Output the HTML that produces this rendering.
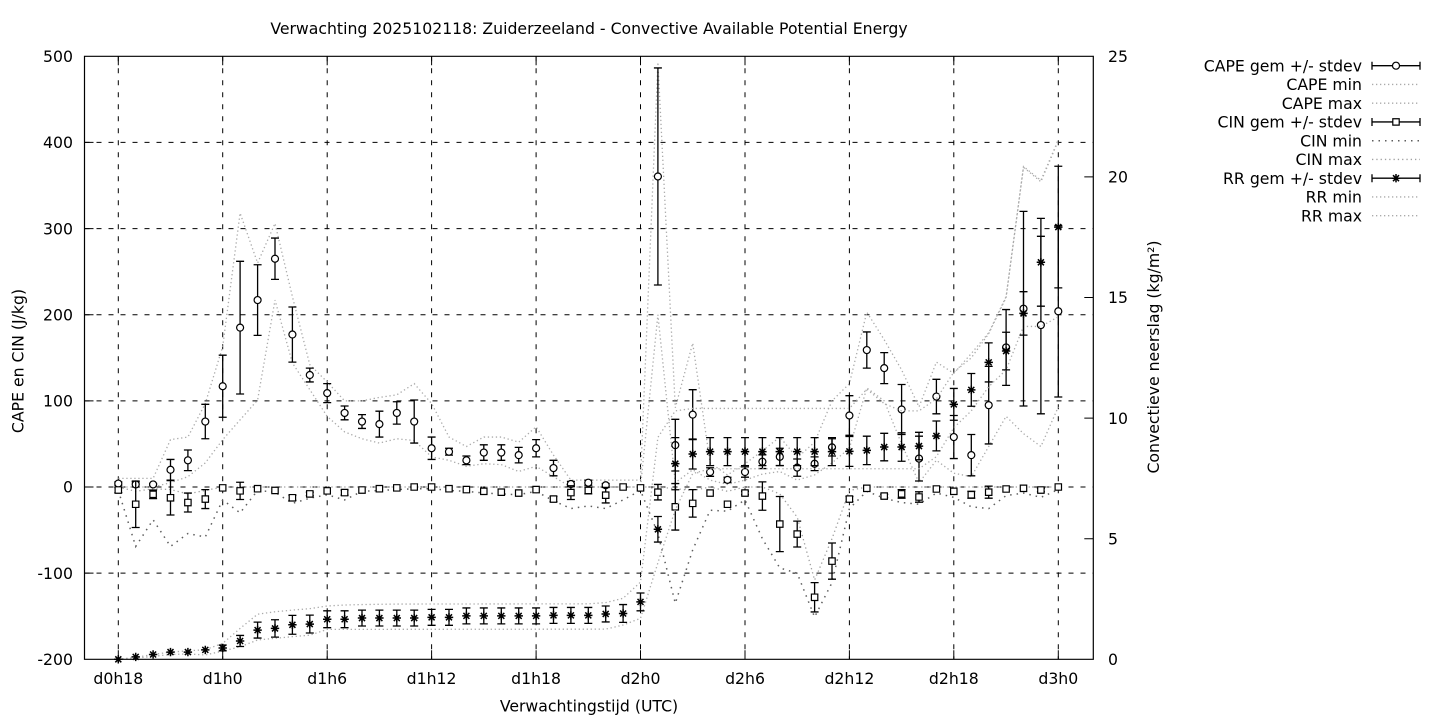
<!DOCTYPE html>
<html>
<head>
<meta charset="utf-8">
<style>
html,body{margin:0;padding:0;background:#fff;}
svg{display:block;}
text{font-family:"DejaVu Sans","Liberation Sans",sans-serif;font-size:15.7px;fill:#000;}
path,polyline,ellipse,rect,line{vector-effect:non-scaling-stroke;}
</style>
</head>
<body>
<svg width="1440" height="720" viewBox="0 0 1440 720" xmlns="http://www.w3.org/2000/svg">
<rect x="0" y="0" width="1440" height="720" fill="#fff"/>
<defs>
  <ellipse id="c" rx="3.5" ry="4.063" fill="#fff" stroke="#000" stroke-width="1.2" vector-effect="non-scaling-stroke"/>
  <rect id="q" x="-3.2" y="-3.715" width="6.4" height="7.43" fill="#fff" stroke="#000" stroke-width="1.2" vector-effect="non-scaling-stroke"/>
  <path id="st" d="M-4.2 0H4.2M0 -0.1741V0.1741M-3 -0.1244L3 0.1244M-3 0.1244L3 -0.1244" fill="none" stroke="#000" stroke-width="1.5" vector-effect="non-scaling-stroke"/>
</defs>

<!-- grid -->
<g stroke="#000" stroke-width="1" stroke-dasharray="5,7" fill="none">
  <path d="M84.5 142.4H1093.3M84.5 228.6H1093.3M84.5 314.7H1093.3M84.5 400.9H1093.3M84.5 487H1093.3M84.5 573.1H1093.3"/>
  <path d="M118.3 56.3V659.3M222.7 56.3V659.3M327.2 56.3V659.3M431.6 56.3V659.3M536.1 56.3V659.3M640.5 56.3V659.3M745 56.3V659.3M849.4 56.3V659.3M953.8 56.3V659.3M1058.3 56.3V659.3"/>
</g>

<!-- ticks -->
<g stroke="#000" stroke-width="1" fill="none">
  <path d="M84.5 142.4h9M84.5 228.6h9M84.5 314.7h9M84.5 400.9h9M84.5 487h9M84.5 573.1h9"/>
  <path d="M1093.3 176.9h-9M1093.3 297.5h-9M1093.3 418.1h-9M1093.3 538.7h-9"/>
  <path d="M118.3 659.3v-9M222.7 659.3v-9M327.2 659.3v-9M431.6 659.3v-9M536.1 659.3v-9M640.5 659.3v-9M745 659.3v-9M849.4 659.3v-9M953.8 659.3v-9M1058.3 659.3v-9"/>
  <path d="M118.3 56.3v9M222.7 56.3v9M327.2 56.3v9M431.6 56.3v9M536.1 56.3v9M640.5 56.3v9M745 56.3v9M849.4 56.3v9M953.8 56.3v9M1058.3 56.3v9"/>
</g>

<!-- LEFT AXIS DATA (CAPE / CIN) -->
<g transform="matrix(1 0 0 -0.861428 0 487.01)" fill="none">
  <polyline stroke="#aaaaaa" stroke-width="1.3" stroke-dasharray="1.3,2.7" points="118.3,10 135.7,10 153.1,10 170.5,55 187.9,58 205.3,97 222.7,163 240.1,318 257.6,260 275,306 292.4,221 309.8,142 327.2,122 344.6,100 362,100 379.4,104 396.8,107 414.2,120 431.6,97 449,58 466.4,47 483.8,58 501.3,58 518.7,52 536.1,70 553.5,37 570.9,8 588.3,8 605.7,8 623.1,8 640.5,8 657.9,493 675.3,92 692.7,167 710.1,28 727.5,14 745,27 762.4,42 779.8,58 797.2,34 814.6,52 832,100 849.4,120 866.8,203 884.2,171 901.6,136 919,93 936.4,145 953.8,132 971.3,155 988.7,179 1006.1,221 1023.5,372 1040.9,356 1058.3,403"/>
  <polyline stroke="#aaaaaa" stroke-width="1.3" stroke-dasharray="1.3,2.7" points="118.3,0 135.7,0 153.1,0 170.5,5 187.9,12 205.3,28 222.7,55 240.1,78 257.6,101 275,217 292.4,144 309.8,113 327.2,82 344.6,64 362,56 379.4,51 396.8,56 414.2,54 431.6,35 449,31 466.4,24 483.8,27 501.3,26 518.7,18 536.1,24 553.5,12 570.9,0 588.3,0 605.7,0 623.1,0 640.5,0 657.9,200 675.3,5 692.7,20 710.1,8 727.5,3 745,8 762.4,15 779.8,18 797.2,8 814.6,14 832,28 849.4,45 866.8,115 884.2,100 901.6,50 919,5 936.4,31 953.8,16 971.3,12 988.7,47 1006.1,82 1023.5,62 1040.9,47 1058.3,93"/>
  <polyline stroke="#5e5e5e" stroke-width="1.5" stroke-dasharray="1.5,5" points="118.3,-4 135.7,-69 153.1,-38 170.5,-69 187.9,-54 205.3,-58 222.7,-15 240.1,-30 257.6,-4 275,-6 292.4,-19 309.8,-13 327.2,-9 344.6,-15 362,-5 379.4,-4 396.8,-3 414.2,-2 431.6,-2 449,-4 466.4,-5 483.8,-7 501.3,-8 518.7,-9 536.1,-5 553.5,-16 570.9,-25 588.3,-22 605.7,-25 623.1,-15 640.5,-4 657.9,-54 675.3,-135 692.7,-73 710.1,-27 727.5,-28 745,-15 762.4,-60 779.8,-94 797.2,-100 814.6,-151 832,-111 849.4,-25 866.8,-5 884.2,-13 901.6,-18 919,-20 936.4,-7 953.8,-12 971.3,-23 988.7,-25 1006.1,-10 1023.5,-7 1040.9,-12 1058.3,-3"/>
  <polyline stroke="#a0a0a0" stroke-width="1.3" stroke-dasharray="1.3,3" points="118.3,0 135.7,-5 153.1,-2 170.5,-3 187.9,-8 205.3,-4 222.7,0 640.5,0 657.9,0 675.3,-2 692.7,-4 710.1,0 727.5,-5 745,0 762.4,0 779.8,-8 797.2,-35 814.6,-108 832,-60 849.4,-4 866.8,0 1058.3,0"/>

  <path stroke="#000" stroke-width="1.3" d="M118.3 2V6M114.3 2h8M114.3 6h8M135.7 0V6M131.7 0h8M131.7 6h8M153.1 2V4M149.1 2h8M149.1 4h8M170.5 8V32M166.5 8h8M166.5 32h8M187.9 19V43M183.9 19h8M183.9 43h8M205.3 56V96M201.3 56h8M201.3 96h8M222.7 81V153M218.7 81h8M218.7 153h8M240.1 108V262M236.1 108h8M236.1 262h8M257.6 176V258M253.6 176h8M253.6 258h8M275 241V289M271 241h8M271 289h8M292.4 145V209M288.4 145h8M288.4 209h8M309.8 122V138M305.8 122h8M305.8 138h8M327.2 98V120M323.2 98h8M323.2 120h8M344.6 78V94M340.6 78h8M340.6 94h8M362 68V84M358 68h8M358 84h8M379.4 58V88M375.4 58h8M375.4 88h8M396.8 73V99M392.8 73h8M392.8 99h8M414.2 51V101M410.2 51h8M410.2 101h8M431.6 32V58M427.6 32h8M427.6 58h8M449 37V45M445 37h8M445 45h8M466.4 26V36M462.4 26h8M462.4 36h8M483.8 31V49M479.8 31h8M479.8 49h8M501.3 31V49M497.3 31h8M497.3 49h8M518.7 28V46M514.7 28h8M514.7 46h8M536.1 35V55M532.1 35h8M532.1 55h8M553.5 13V31M549.5 13h8M549.5 31h8M570.9 0.5V6.5M566.9 0.5h8M566.9 6.5h8M588.3 2V8M584.3 2h8M584.3 8h8M605.7 0V4M601.7 0h8M601.7 4h8M657.9 234.5V486.5M653.9 234.5h8M653.9 486.5h8M675.3 18.6V78.6M671.3 18.6h8M671.3 78.6h8M692.7 55V113M688.7 55h8M688.7 113h8M710.1 12.4V22.4M706.1 12.4h8M706.1 22.4h8M727.5 5.3V11.3M723.5 5.3h8M723.5 11.3h8M745 11.4V23.4M741 11.4h8M741 23.4h8M762.4 21.4V37.4M758.4 21.4h8M758.4 37.4h8M779.8 25V45M775.8 25h8M775.8 45h8M797.2 12.5V32.5M793.2 12.5h8M793.2 32.5h8M814.6 19V35M810.6 19h8M810.6 35h8M832 36V56M828 36h8M828 56h8M849.4 60V106M845.4 60h8M845.4 106h8M866.8 138V180M862.8 138h8M862.8 180h8M884.2 120V156M880.2 120h8M880.2 156h8M901.6 61V119M897.6 61h8M897.6 119h8M919 7V59M915 7h8M915 59h8M936.4 85V125M932.4 85h8M932.4 125h8M953.8 33V83M949.8 33h8M949.8 83h8M971.3 13V61M967.3 13h8M967.3 61h8M988.7 50V140M984.7 50h8M984.7 140h8M1006.1 118V206M1002.1 118h8M1002.1 206h8M1023.5 94V320M1019.5 94h8M1019.5 320h8M1040.9 85V291M1036.9 85h8M1036.9 291h8M1058.3 104.5V303.5M1054.3 104.5h8M1054.3 303.5h8"/>

  <use href="#c" x="118.3" y="4"/><use href="#c" x="135.7" y="3"/><use href="#c" x="153.1" y="3"/><use href="#c" x="170.5" y="20"/><use href="#c" x="187.9" y="31"/><use href="#c" x="205.3" y="76"/><use href="#c" x="222.7" y="117"/><use href="#c" x="240.1" y="185"/><use href="#c" x="257.6" y="217"/><use href="#c" x="275" y="265"/><use href="#c" x="292.4" y="177"/><use href="#c" x="309.8" y="130"/><use href="#c" x="327.2" y="109"/><use href="#c" x="344.6" y="86"/><use href="#c" x="362" y="76"/><use href="#c" x="379.4" y="73"/><use href="#c" x="396.8" y="86"/><use href="#c" x="414.2" y="76"/><use href="#c" x="431.6" y="45"/><use href="#c" x="449" y="41"/><use href="#c" x="466.4" y="31"/><use href="#c" x="483.8" y="40"/><use href="#c" x="501.3" y="40"/><use href="#c" x="518.7" y="37"/><use href="#c" x="536.1" y="45"/><use href="#c" x="553.5" y="22"/><use href="#c" x="570.9" y="3.5"/><use href="#c" x="588.3" y="5"/><use href="#c" x="605.7" y="2"/><use href="#c" x="657.9" y="360.5"/><use href="#c" x="675.3" y="48.6"/><use href="#c" x="692.7" y="84"/><use href="#c" x="710.1" y="17.4"/><use href="#c" x="727.5" y="8.3"/><use href="#c" x="745" y="17.4"/><use href="#c" x="762.4" y="29.4"/><use href="#c" x="779.8" y="35"/><use href="#c" x="797.2" y="22.5"/><use href="#c" x="814.6" y="27"/><use href="#c" x="832" y="46"/><use href="#c" x="849.4" y="83"/><use href="#c" x="866.8" y="159"/><use href="#c" x="884.2" y="138"/><use href="#c" x="901.6" y="90"/><use href="#c" x="919" y="33"/><use href="#c" x="936.4" y="105"/><use href="#c" x="953.8" y="58"/><use href="#c" x="971.3" y="37"/><use href="#c" x="988.7" y="95"/><use href="#c" x="1006.1" y="162"/><use href="#c" x="1023.5" y="207"/><use href="#c" x="1040.9" y="188"/><use href="#c" x="1058.3" y="204"/>

  <path stroke="#000" stroke-width="1.3" d="M118.3 -6.5V-0.5M114.3 -6.5h8M114.3 -0.5h8M135.7 -47V7M131.7 -47h8M131.7 7h8M153.1 -13.5V-3.5M149.1 -13.5h8M149.1 -3.5h8M170.5 -32.5V7.5M166.5 -32.5h8M166.5 7.5h8M187.9 -29V-7M183.9 -29h8M183.9 -7h8M205.3 -25V-3M201.3 -25h8M201.3 -3h8M240.1 -14.5V5.5M236.1 -14.5h8M236.1 5.5h8M292.4 -15.5V-9.5M288.4 -15.5h8M288.4 -9.5h8M309.8 -10V-6M305.8 -10h8M305.8 -6h8M344.6 -9.5V-3.5M340.6 -9.5h8M340.6 -3.5h8M553.5 -17V-11M549.5 -17h8M549.5 -11h8M570.9 -14.5V1.5M566.9 -14.5h8M566.9 1.5h8M588.3 -8V0M584.3 -8h8M584.3 0h8M605.7 -18.5V-0.5M601.7 -18.5h8M601.7 -0.5h8M657.9 -15V3M653.9 -15h8M653.9 3h8M675.3 -50V4M671.3 -50h8M671.3 4h8M692.7 -35V-3M688.7 -35h8M688.7 -3h8M745 -9V-5M741 -9h8M741 -5h8M762.4 -27V6M758.4 -27h8M758.4 6h8M779.8 -75V-11M775.8 -75h8M775.8 -11h8M797.2 -69.6V-39.6M793.2 -69.6h8M793.2 -39.6h8M814.6 -145V-111M810.6 -145h8M810.6 -111h8M832 -107V-65M828 -107h8M828 -65h8M849.4 -17V-11M845.4 -17h8M845.4 -11h8M884.2 -12.5V-8.5M880.2 -12.5h8M880.2 -8.5h8M901.6 -13V-3M897.6 -13h8M897.6 -3h8M919 -17.6V-5.6M915 -17.6h8M915 -5.6h8M971.3 -13V-5M967.3 -13h8M967.3 -5h8M988.7 -13V1M984.7 -13h8M984.7 1h8M1040.9 -5.5V-1.5M1036.9 -5.5h8M1036.9 -1.5h8"/>

  <use href="#q" x="118.3" y="-3.5"/><use href="#q" x="135.7" y="-20"/><use href="#q" x="153.1" y="-8.5"/><use href="#q" x="170.5" y="-12.5"/><use href="#q" x="187.9" y="-18"/><use href="#q" x="205.3" y="-14"/><use href="#q" x="222.7" y="-1"/><use href="#q" x="240.1" y="-4.5"/><use href="#q" x="257.6" y="-2"/><use href="#q" x="275" y="-4"/><use href="#q" x="292.4" y="-12.5"/><use href="#q" x="309.8" y="-8"/><use href="#q" x="327.2" y="-4.5"/><use href="#q" x="344.6" y="-6.5"/><use href="#q" x="362" y="-3.5"/><use href="#q" x="379.4" y="-2"/><use href="#q" x="396.8" y="-1"/><use href="#q" x="414.2" y="0"/><use href="#q" x="431.6" y="0"/><use href="#q" x="449" y="-2"/><use href="#q" x="466.4" y="-3"/><use href="#q" x="483.8" y="-5"/><use href="#q" x="501.3" y="-6"/><use href="#q" x="518.7" y="-7"/><use href="#q" x="536.1" y="-3"/><use href="#q" x="553.5" y="-14"/><use href="#q" x="570.9" y="-6.5"/><use href="#q" x="588.3" y="-4"/><use href="#q" x="605.7" y="-9.5"/><use href="#q" x="623.1" y="0"/><use href="#q" x="640.5" y="-1"/><use href="#q" x="657.9" y="-6"/><use href="#q" x="675.3" y="-23"/><use href="#q" x="692.7" y="-19"/><use href="#q" x="710.1" y="-7"/><use href="#q" x="727.5" y="-20"/><use href="#q" x="745" y="-7"/><use href="#q" x="762.4" y="-10.5"/><use href="#q" x="779.8" y="-43"/><use href="#q" x="797.2" y="-54.6"/><use href="#q" x="814.6" y="-128"/><use href="#q" x="832" y="-86"/><use href="#q" x="849.4" y="-14"/><use href="#q" x="866.8" y="-1.5"/><use href="#q" x="884.2" y="-10.5"/><use href="#q" x="901.6" y="-8"/><use href="#q" x="919" y="-11.6"/><use href="#q" x="936.4" y="-2.3"/><use href="#q" x="953.8" y="-5"/><use href="#q" x="971.3" y="-9"/><use href="#q" x="988.7" y="-6"/><use href="#q" x="1006.1" y="-2.3"/><use href="#q" x="1023.5" y="-1.5"/><use href="#q" x="1040.9" y="-3.5"/><use href="#q" x="1058.3" y="0"/>
</g>

<!-- RIGHT AXIS DATA (RR) -->
<g transform="matrix(1 0 0 -24.12 0 659.3)" fill="none">
  <polyline stroke="#aaaaaa" stroke-width="1.3" stroke-dasharray="1.3,2.7" points="118.3,0 135.7,0.08 153.1,0.2 170.5,0.3 187.9,0.35 205.3,0.4 222.7,0.66 240.1,1.28 257.6,1.87 275,1.97 292.4,2.04 309.8,2.1 327.2,2.21 344.6,2.25 362,2.27 379.4,2.28 396.8,2.29 588.3,2.3 605.7,2.35 623.1,2.53 640.5,3.2 657.9,9.2 675.3,10.3 692.7,10.4 849.4,10.4 866.8,11.2 884.2,10.6 901.6,10.3 919,10.3 936.4,10.8 953.8,11.9 971.3,12.5 988.7,13.5 1006.1,15 1023.5,20.4 1040.9,19.8 1058.3,21.5"/>
  <polyline stroke="#aaaaaa" stroke-width="1.3" stroke-dasharray="1.3,2.7" points="118.3,0 135.7,0.05 153.1,0.12 170.5,0.2 187.9,0.22 205.3,0.18 222.7,0.34 240.1,0.52 257.6,0.8 275,0.87 292.4,0.94 309.8,1 327.2,1.24 605.7,1.25 623.1,1.42 640.5,1.7 657.9,4 675.3,6.2 692.7,7.7 710.1,7.9 919,7.9 936.4,8.4 953.8,9.6 971.3,10.3 988.7,11.3 1006.1,12 1023.5,13.8 1040.9,13.8 1058.3,14.2"/>

  <path stroke="#000" stroke-width="1.3" d="M222.7 0.35V0.59M218.7 0.35h8M218.7 0.59h8M240.1 0.53V0.99M236.1 0.53h8M236.1 0.99h8M257.6 0.88V1.54M253.6 0.88h8M253.6 1.54h8M275 0.92V1.64M271 0.92h8M271 1.64h8M292.4 1.04V1.82M288.4 1.04h8M288.4 1.82h8M309.8 1.09V1.83M305.8 1.09h8M305.8 1.83h8M327.2 1.31V2.01M323.2 1.31h8M323.2 2.01h8M344.6 1.31V2.01M340.6 1.31h8M340.6 2.01h8M362 1.38V2.04M358 1.38h8M358 2.04h8M379.4 1.38V2.04M375.4 1.38h8M375.4 2.04h8M396.8 1.38V2.04M392.8 1.38h8M392.8 2.04h8M414.2 1.38V2.04M410.2 1.38h8M410.2 2.04h8M431.6 1.41V2.07M427.6 1.41h8M427.6 2.07h8M449 1.41V2.07M445 1.41h8M445 2.07h8M466.4 1.47V2.13M462.4 1.47h8M462.4 2.13h8M483.8 1.47V2.13M479.8 1.47h8M479.8 2.13h8M501.3 1.47V2.13M497.3 1.47h8M497.3 2.13h8M518.7 1.47V2.13M514.7 1.47h8M514.7 2.13h8M536.1 1.47V2.13M532.1 1.47h8M532.1 2.13h8M553.5 1.49V2.15M549.5 1.49h8M549.5 2.15h8M570.9 1.49V2.15M566.9 1.49h8M566.9 2.15h8M588.3 1.49V2.15M584.3 1.49h8M584.3 2.15h8M605.7 1.55V2.21M601.7 1.55h8M601.7 2.21h8M623.1 1.53V2.27M619.1 1.53h8M619.1 2.27h8M640.5 2.01V2.75M636.5 2.01h8M636.5 2.75h8M657.9 4.86V5.92M653.9 4.86h8M653.9 5.92h8M675.3 7.03V9.19M671.3 7.03h8M671.3 9.19h8M692.7 7.89V9.13M688.7 7.89h8M688.7 9.13h8M710.1 8.03V9.19M706.1 8.03h8M706.1 9.19h8M727.5 8.03V9.19M723.5 8.03h8M723.5 9.19h8M745 8.03V9.19M741 8.03h8M741 9.19h8M762.4 8.03V9.19M758.4 8.03h8M758.4 9.19h8M779.8 8.03V9.19M775.8 8.03h8M775.8 9.19h8M797.2 8.03V9.19M793.2 8.03h8M793.2 9.19h8M814.6 8.03V9.19M810.6 8.03h8M810.6 9.19h8M832 8.03V9.19M828 8.03h8M828 9.19h8M849.4 8V9.24M845.4 8h8M845.4 9.24h8M866.8 8.07V9.25M862.8 8.07h8M862.8 9.25h8M884.2 8.23V9.37M880.2 8.23h8M880.2 9.37h8M901.6 8.21V9.39M897.6 8.21h8M897.6 9.39h8M919 8.27V9.41M915 8.27h8M915 9.41h8M936.4 8.64V9.88M932.4 8.64h8M932.4 9.88h8M953.8 9.91V11.23M949.8 9.91h8M949.8 11.23h8M971.3 10.49V11.85M967.3 10.49h8M967.3 11.85h8M988.7 11.5V13.12M984.7 11.5h8M984.7 13.12h8M1006.1 12V13.56M1002.1 12h8M1002.1 13.56h8M1023.5 13.44V15.24M1019.5 13.44h8M1019.5 15.24h8M1040.9 14.64V18.28M1036.9 14.64h8M1036.9 18.28h8M1058.3 15.4V20.44M1054.3 15.4h8M1054.3 20.44h8"/>

  <use href="#st" x="118.3" y="0"/><use href="#st" x="135.7" y="0.1"/><use href="#st" x="153.1" y="0.2"/><use href="#st" x="170.5" y="0.3"/><use href="#st" x="187.9" y="0.3"/><use href="#st" x="205.3" y="0.39"/><use href="#st" x="222.7" y="0.47"/><use href="#st" x="240.1" y="0.76"/><use href="#st" x="257.6" y="1.21"/><use href="#st" x="275" y="1.28"/><use href="#st" x="292.4" y="1.43"/><use href="#st" x="309.8" y="1.46"/><use href="#st" x="327.2" y="1.66"/><use href="#st" x="344.6" y="1.66"/><use href="#st" x="362" y="1.71"/><use href="#st" x="379.4" y="1.71"/><use href="#st" x="396.8" y="1.71"/><use href="#st" x="414.2" y="1.71"/><use href="#st" x="431.6" y="1.74"/><use href="#st" x="449" y="1.74"/><use href="#st" x="466.4" y="1.8"/><use href="#st" x="483.8" y="1.8"/><use href="#st" x="501.3" y="1.8"/><use href="#st" x="518.7" y="1.8"/><use href="#st" x="536.1" y="1.8"/><use href="#st" x="553.5" y="1.82"/><use href="#st" x="570.9" y="1.82"/><use href="#st" x="588.3" y="1.82"/><use href="#st" x="605.7" y="1.88"/><use href="#st" x="623.1" y="1.9"/><use href="#st" x="640.5" y="2.38"/><use href="#st" x="657.9" y="5.39"/><use href="#st" x="675.3" y="8.11"/><use href="#st" x="692.7" y="8.51"/><use href="#st" x="710.1" y="8.61"/><use href="#st" x="727.5" y="8.61"/><use href="#st" x="745" y="8.61"/><use href="#st" x="762.4" y="8.61"/><use href="#st" x="779.8" y="8.61"/><use href="#st" x="797.2" y="8.61"/><use href="#st" x="814.6" y="8.61"/><use href="#st" x="832" y="8.61"/><use href="#st" x="849.4" y="8.62"/><use href="#st" x="866.8" y="8.66"/><use href="#st" x="884.2" y="8.8"/><use href="#st" x="901.6" y="8.8"/><use href="#st" x="919" y="8.84"/><use href="#st" x="936.4" y="9.26"/><use href="#st" x="953.8" y="10.57"/><use href="#st" x="971.3" y="11.17"/><use href="#st" x="988.7" y="12.31"/><use href="#st" x="1006.1" y="12.78"/><use href="#st" x="1023.5" y="14.34"/><use href="#st" x="1040.9" y="16.46"/><use href="#st" x="1058.3" y="17.92"/>
</g>

<!-- frame -->
<rect x="84.5" y="56.3" width="1008.8" height="603" fill="none" stroke="#000" stroke-width="1.2"/>

<text x="589" y="34" text-anchor="middle">Verwachting 2025102118: Zuiderzeeland - Convective Available Potential Energy</text>

<g text-anchor="end">
  <text x="73" y="62">500</text>
  <text x="73" y="148.1">400</text>
  <text x="73" y="234.3">300</text>
  <text x="73" y="320.4">200</text>
  <text x="73" y="406.6">100</text>
  <text x="73" y="492.7">0</text>
  <text x="73" y="578.8">-100</text>
  <text x="73" y="665">-200</text>
</g>
<g text-anchor="start">
  <text x="1108" y="62">25</text>
  <text x="1108" y="182.6">20</text>
  <text x="1108" y="303.2">15</text>
  <text x="1108" y="423.8">10</text>
  <text x="1108" y="544.4">5</text>
  <text x="1108" y="665">0</text>
</g>
<g text-anchor="middle">
  <text x="118.3" y="684">d0h18</text>
  <text x="222.7" y="684">d1h0</text>
  <text x="327.2" y="684">d1h6</text>
  <text x="431.6" y="684">d1h12</text>
  <text x="536.1" y="684">d1h18</text>
  <text x="640.5" y="684">d2h0</text>
  <text x="745" y="684">d2h6</text>
  <text x="849.4" y="684">d2h12</text>
  <text x="953.8" y="684">d2h18</text>
  <text x="1058.3" y="684">d3h0</text>
</g>
<text x="589" y="711.5" text-anchor="middle">Verwachtingstijd (UTC)</text>
<text transform="translate(23.5,361) rotate(-90)" text-anchor="middle">CAPE en CIN (J/kg)</text>
<text transform="translate(1159,357) rotate(-90)" text-anchor="middle">Convectieve neerslag (kg/m²)</text>

<g text-anchor="end">
  <text x="1362" y="71.4">CAPE gem +/- stdev</text>
  <text x="1362" y="90.15">CAPE min</text>
  <text x="1362" y="108.9">CAPE max</text>
  <text x="1362" y="127.65">CIN gem +/- stdev</text>
  <text x="1362" y="146.4">CIN min</text>
  <text x="1362" y="165.15">CIN max</text>
  <text x="1362" y="183.9">RR gem +/- stdev</text>
  <text x="1362" y="202.65">RR min</text>
  <text x="1362" y="221.4">RR max</text>
</g>
<g fill="none" stroke="#000" stroke-width="1.3">
  <path d="M1372 65.7H1420M1372 61.7v8M1420 61.7v8"/>
  <path d="M1372 121.95H1420M1372 117.95v8M1420 117.95v8"/>
  <path d="M1372 178.2H1420M1372 174.2v8M1420 174.2v8"/>
</g>
<circle cx="1396" cy="65.7" r="3.5" fill="#fff" stroke="#000" stroke-width="1.2"/>
<rect x="1392.8" y="118.75" width="6.4" height="6.4" fill="#fff" stroke="#000" stroke-width="1.2"/>
<path d="M1391.8 178.2h8.4M1396 174v8.4M1393 175.2l6 6M1393 181.2l6 -6" stroke="#000" stroke-width="1.5" fill="none"/>
<g fill="none" stroke-width="1.3">
  <path d="M1372 84.45H1420" stroke="#aaaaaa" stroke-dasharray="1.3,2.7"/>
  <path d="M1372 103.2H1420" stroke="#aaaaaa" stroke-dasharray="1.3,2.7"/>
  <path d="M1372 140.7H1420" stroke="#5e5e5e" stroke-width="1.5" stroke-dasharray="1.5,5"/>
  <path d="M1372 159.45H1420" stroke="#a0a0a0" stroke-dasharray="1.3,3"/>
  <path d="M1372 196.95H1420" stroke="#aaaaaa" stroke-dasharray="1.3,2.7"/>
  <path d="M1372 215.7H1420" stroke="#aaaaaa" stroke-dasharray="1.3,2.7"/>
</g>
</svg>
</body>
</html>
